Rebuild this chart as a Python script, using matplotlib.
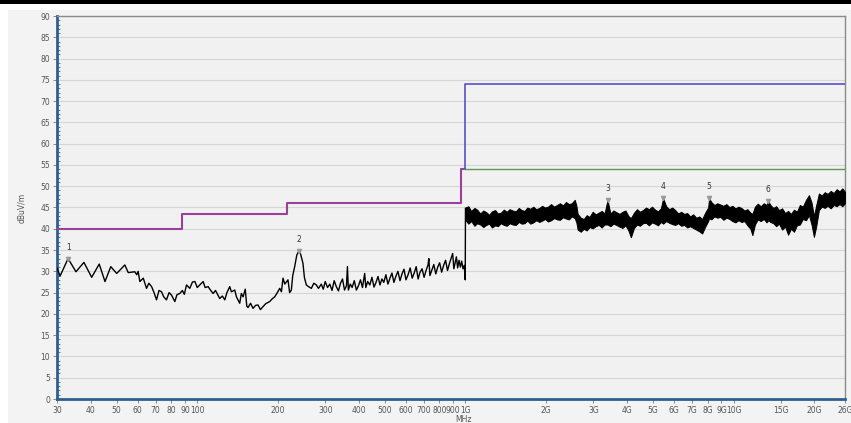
import matplotlib
matplotlib.use("Agg")
import matplotlib.pyplot as plt
from matplotlib.patches import Rectangle
from matplotlib.ticker import FixedLocator, FixedFormatter, MultipleLocator, NullLocator

# ---------------- data ----------------
# measured trace, 30 MHz - 1 GHz (MHz, dBuV/m)
trace_freq = [30, 30.8, 33.0, 35.3, 37.8, 40.4, 43.1, 45.3, 47.6, 50.1, 53.7, 55.3, 58.5, 59.5, 60.2,
              61.1, 62.9, 64.7, 66, 67.6, 69, 70.5, 72, 73.6, 75, 76.8, 78.5, 80.2, 82.5, 84, 86.1,
              88, 89.5, 91.2, 93.8, 96, 98.0, 100, 102.2, 105.2, 107, 109.8, 112, 114.6, 117, 121.3,
              124, 126.7, 129, 132.2, 134, 138.0, 140, 144.0, 146, 148.2, 151, 153, 154.7, 158,
              161.4, 165, 168.5, 172, 175.8, 180, 186.3, 190, 194.4, 198, 203, 206, 208.8, 212,
              217.9, 221, 224.3, 227, 230.8, 235, 239.4, 243, 247.8, 251, 255.1, 260, 266.3, 272,
              278, 283, 286, 290, 295,
              300, 306, 312, 318, 324, 330, 336, 342, 348, 354,
              360, 363, 366, 372, 378, 385, 392, 399, 406, 413,
              421, 425, 432, 440, 448, 456, 464, 472, 480, 488,
              496, 505, 514, 523, 532, 541, 550, 560, 570, 580,
              590, 600, 611, 622, 633, 644, 655, 666, 677, 689,
              701, 713, 725, 730, 737, 750, 762, 775, 788, 801,
              815, 829, 843, 857, 871, 886, 896, 905, 915, 925,
              935, 946, 957, 968, 979, 990, 994, 998, 1000]
trace_level = [30.8, 28.9, 33.0, 29.9, 32.1, 28.6, 31.7, 27.6, 31.1, 29.5, 31.5, 29.7, 29.9, 29.2, 30.0,
               27.6, 28.4, 26.0, 27.2, 26.4, 25.0, 23.3, 25.5, 25.2, 24.0, 23.3, 25.0, 24.4, 22.9, 24.5, 24.8,
               25.5, 24.6, 26.8, 26.0, 27.5, 27.6, 26.2, 26.8, 27.6, 26.2, 26.4, 25.6, 24.8, 25.5, 23.6,
               24.2, 23.3, 25.0, 26.4, 25.2, 25.6, 24.0, 22.5, 24.8, 24.0, 25.8, 21.8, 21.5, 22.5,
               21.3, 22.0, 22.1, 21.0, 21.7, 22.4, 22.9, 23.5, 24.0, 24.8, 26.0, 25.2, 28.4, 27.0,
               28.0, 25.0, 25.6, 29.0, 31.1, 33.8, 34.8, 34.0, 31.9, 28.5, 26.8, 26.4, 26.0, 27.2,
               26.8, 26.0, 26.4, 27.0, 25.8,
               27.6, 26.2, 27.0, 25.5, 27.8, 26.4, 25.4, 27.2, 28.2, 25.6,
               26.6, 31.1, 25.6, 27.0, 26.2, 27.8, 25.6, 26.6, 28.0, 26.2,
               29.5, 26.2, 27.6, 26.8, 28.6, 26.3, 27.4, 28.8, 26.8, 28.2,
               27.4, 29.2, 27.0, 28.4, 29.6, 27.4, 28.8, 30.0, 27.8, 29.4,
               30.5, 28.0, 29.2, 30.8, 28.4, 29.6, 31.1, 28.2, 29.8, 30.6,
               28.6, 30.2, 31.5, 33.0, 29.0, 30.4, 31.6, 29.4, 31.0, 32.0,
               29.8, 31.4, 32.6, 30.2, 31.8, 33.2, 34.2, 30.6, 32.0, 33.4,
               30.8, 32.6, 31.0, 32.4, 30.6, 31.4, 29.6, 28.0, 44.8]

# measured trace 1 GHz - 26 GHz: lower / upper envelope of the dense sweep
band_freq = [1000, 1025, 1050, 1080, 1105, 1135, 1165, 1195, 1225, 1255, 1290, 1320, 1355, 1390, 1425,
             1460, 1500, 1540, 1580, 1620, 1660, 1700, 1745, 1790, 1835, 1885, 1930, 1980, 2030, 2085,
             2140, 2195, 2250, 2310, 2370, 2430, 2490, 2555, 2590, 2620, 2690, 2760, 2830, 2900, 2980,
             3060, 3140, 3220, 3300, 3385, 3470, 3560, 3650, 3750, 3850, 3950, 4050, 4137, 4250, 4360,
             4470, 4590, 4710, 4830, 4960, 5090, 5220, 5350, 5458, 5600, 5750, 5900, 6050, 6210, 6370,
             6540, 6710, 6880, 7060, 7250, 7440, 7630, 7830, 8030, 8097, 8250, 8470, 8690, 8920, 9150,
             9390, 9640, 9890, 10150, 10410, 10680, 10960, 11250, 11540, 11740, 12000, 12300, 12600,
             12950, 13250, 13460, 13700, 14050, 14400, 14750, 15150, 15550, 15950, 16350, 16780, 17200,
             17650, 18100, 18600, 19080, 19500, 19910, 20300, 20780, 21300, 21850, 22400, 23000, 23600,
             24200, 24800, 25400, 26000]
band_low = [42.0, 41.2, 41.8, 40.7, 41.3, 41.0, 40.4, 40.9, 41.2, 40.3, 40.8, 40.6, 41.3, 40.9, 40.7,
            41.3, 41.0, 40.9, 41.6, 41.2, 41.3, 41.9, 41.2, 41.5, 42.0, 41.6, 41.9, 42.3, 41.7, 42.0,
            42.5, 42.2, 42.1, 42.7, 42.4, 42.2, 42.9, 42.5, 41.5, 39.8, 39.3, 40.0, 39.6, 40.4, 40.1,
            40.6, 40.9, 40.3, 41.0, 41.0, 40.6, 41.2, 40.9, 40.5, 40.2, 40.8, 39.6, 38.0, 40.2, 41.0,
            40.7, 41.3, 41.4, 40.8, 41.5, 41.2, 40.8, 41.6, 41.2, 41.8, 41.4, 41.1, 40.9, 41.3, 40.7,
            40.9, 40.3, 40.6, 40.2, 39.8, 39.4, 38.9, 40.5, 41.8, 42.5, 42.2, 42.9, 42.6, 42.8, 42.1,
            42.6, 42.3, 41.8, 41.5, 42.0, 41.6, 41.8, 40.8, 40.0, 38.5, 41.0, 42.2, 41.8,
            42.3, 41.5, 42.0, 41.6, 41.3, 40.6, 41.2, 39.8, 40.5, 38.6, 40.0, 39.3, 40.8,
            41.0, 42.3, 42.0, 43.2, 41.0, 38.1, 40.5, 44.4, 45.2, 44.9, 45.4, 44.8, 45.6,
            45.3, 45.8, 45.3, 46.0]
band_high = [45.0, 45.3, 44.2, 44.9, 44.5, 43.6, 44.3, 43.9, 43.3, 44.1, 44.4, 43.6, 43.8, 44.5, 44.0,
             44.6, 44.3, 44.1, 44.9, 44.4, 44.2, 45.0, 44.7, 45.2, 44.6, 44.9, 45.4, 45.0, 45.2, 45.8,
             45.2, 45.6, 46.0, 45.5, 46.3, 45.8, 46.0, 46.8, 45.5, 43.5, 42.6, 42.3, 43.2, 42.8, 44.0,
             43.4, 43.8, 44.2, 43.6, 46.8, 43.6, 44.3, 43.9, 43.5, 44.0, 44.3, 43.0, 42.5, 43.8, 44.6,
             44.0, 44.4, 45.0, 44.6, 45.2, 44.5, 44.1, 44.8, 47.2, 45.3, 44.6, 45.0, 44.4, 43.6, 44.0,
             43.5, 43.7, 42.9, 43.4, 42.6, 42.9, 42.3, 43.8, 45.0, 47.2, 46.3, 45.6, 46.0, 45.7, 45.4,
             45.8, 45.1, 45.4, 44.8, 45.2, 44.9, 44.3, 44.6, 43.8, 43.5, 45.2, 45.9, 45.3,
             46.0, 45.6, 46.5, 45.6, 44.9, 45.3, 44.4, 44.8, 43.7, 44.2, 43.5, 44.5, 44.0,
             45.6, 45.2, 46.8, 47.9, 46.2, 43.0, 45.5, 48.3, 47.8, 48.6, 48.2, 48.9, 48.4,
             49.3, 48.8, 49.5, 48.7]

# limit lines
qp_limit_freq = [30, 88, 216, 960, 1000]
qp_limit_level = [40, 43.5, 46, 54, 54]
pk_limit_freq = [1000, 1000, 26000]
pk_limit_level = [54, 74, 74]
av_limit_freq = [1000, 26000]
av_limit_level = [54, 54]

# markers
marker_ids = ["1", "2", "3", "4", "5", "6"]
marker_freq = [33.0, 239.4, 3385, 5458, 8097, 13460]
marker_level = [33.0, 34.8, 46.8, 47.2, 47.2, 46.5]

# axis ticks
x_ticks = [30, 40, 50, 60, 70, 80, 90, 100, 200, 300, 400, 500, 600, 700, 800, 900,
           1000, 2000, 3000, 4000, 5000, 6000, 7000, 8000, 9000, 10000, 15000, 20000, 26000]
x_tick_labels = ["30", "40", "50", "60", "70", "80", "90", "100", "200", "300", "400", "500", "600",
                 "700", "800", "900", "1G", "2G", "3G", "4G", "5G", "6G", "7G", "8G", "9G", "10G",
                 "15G", "20G", "26G"]
y_ticks = list(range(0, 91, 5))

# ---------------- figure ----------------
W, H = 851, 423
fig = plt.figure(figsize=(W / 100, H / 100), dpi=100, facecolor="white")
fig.patches.append(Rectangle((8 / W, 0), 1 - 8 / W, 1 - 10 / H, transform=fig.transFigure,
                             facecolor="#f3f3f3", edgecolor="none", zorder=-10))
fig.patches.append(Rectangle((0, 1 - 4 / H), 1, 4 / H, transform=fig.transFigure,
                             facecolor="black", edgecolor="none", zorder=-10))

ax = fig.add_axes([57 / W, 1 - 399 / H, (845 - 57) / W, (399 - 16) / H])
ax.set_zorder(1)
ax.set_facecolor("#f1f1f1")
ax.set_xscale("log")
ax.set_xlim(30, 26000)
ax.set_ylim(0, 90)

ax.yaxis.set_major_locator(FixedLocator(y_ticks))
ax.yaxis.set_minor_locator(MultipleLocator(1))
ax.xaxis.set_major_locator(FixedLocator(x_ticks))
ax.xaxis.set_major_formatter(FixedFormatter(x_tick_labels))
ax.xaxis.set_minor_locator(NullLocator())
ax.grid(axis="y", which="major", color="#d6d6d6", linewidth=0.8)
ax.set_axisbelow(True)

ax.tick_params(axis="both", which="major", labelsize=5.5, labelcolor="#555555", color="#777777",
               length=3, width=0.6, pad=2)
ax.tick_params(axis="y", which="minor", direction="in", length=2, color="#3a6ea0", width=0.6)

for side in ("left", "bottom"):
    ax.spines[side].set_color("#2f5f8f")
    ax.spines[side].set_linewidth(2.0)
for side in ("top", "right"):
    ax.spines[side].set_color("#8a8a8a")
    ax.spines[side].set_linewidth(1.0)

# limits
ax.plot(qp_limit_freq, qp_limit_level, drawstyle="steps-post", color="#9a409a", linewidth=1.5, zorder=3)
ax.plot(pk_limit_freq, pk_limit_level, color="#5a50c8", linewidth=1.2, zorder=3)
ax.plot(av_limit_freq, av_limit_level, color="#5c9a52", linewidth=1.0, zorder=3)

# trace
ax.plot(trace_freq, trace_level, color="black", linewidth=1.0, zorder=4)
ax.fill_between(band_freq, band_low, band_high, color="black", linewidth=0.7, edgecolor="black", zorder=4)

# markers
ax.plot(marker_freq, marker_level, linestyle="none", marker="v", markersize=3,
        color="#9a9a9a", zorder=5)
for lab, f, v in zip(marker_ids, marker_freq, marker_level):
    ax.text(f, v + 1.6, lab, fontsize=5.5, color="#333333", ha="center", va="bottom", zorder=6)

ax.set_ylabel("dBuV/m", fontsize=5.5, color="#555555", labelpad=10)
ax.set_xlabel("MHz", fontsize=5.5, color="#555555")
ax.xaxis.set_label_coords((463 - 57) / (845 - 57), -0.041)

fig.savefig("out.png", dpi=100, facecolor=fig.get_facecolor())
